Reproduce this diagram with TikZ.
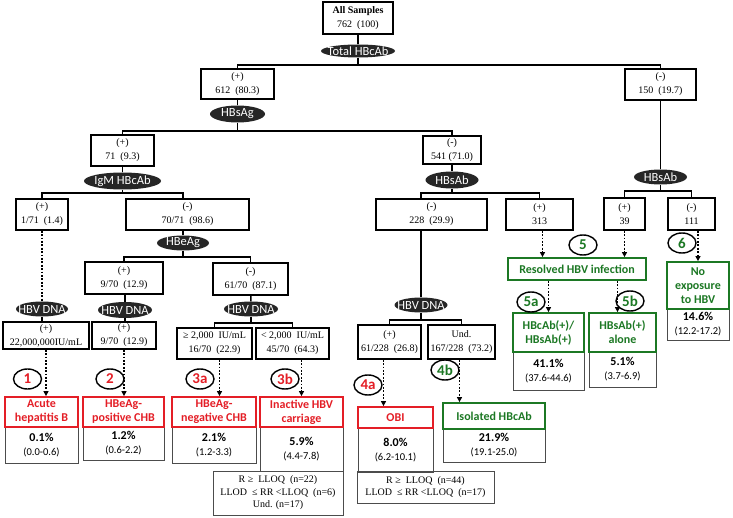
\documentclass[tikz,border=0pt]{standalone}
\usepackage{fontspec}
\setmainfont{Liberation Serif}
\newfontfamily\calfont{Carlito}
\usepackage{tikz}
\usetikzlibrary{arrows.meta,shapes.geometric,calc}
\definecolor{stagered}{RGB}{228,30,38}
\definecolor{stagegreen}{RGB}{28,120,36}
\tikzset{
  wh/.style 2 args={minimum width=#1,minimum height=#2},
  countbox/.style={draw,line width=1.5pt,inner sep=0pt,align=center,
    font=\fontsize{10}{14}\selectfont},
  assayellipse/.style={ellipse,fill=black!85,text=white,inner xsep=-12pt,
    inner ysep=-3pt,font=\calfont\fontsize{12.5}{14}\selectfont},
  redbox/.style={draw=stagered,text=stagered,line width=1.8pt,inner sep=0pt,
    align=center,font=\calfont\bfseries\fontsize{12}{14}\selectfont},
  greenbox/.style={redbox,draw=stagegreen,text=stagegreen},
  ratebox/.style={draw=black!70,line width=0.8pt,inner sep=0pt,align=center,
    font=\calfont\fontsize{12}{14}\selectfont},
  notebox/.style={draw=black!70,line width=0.8pt,inner sep=0pt,align=center,
    font=\fontsize{10}{12.5}\selectfont},
  treeline/.style={line width=1.5pt},
  dotline/.style={line width=1.8pt,dash pattern=on 1.8pt off 1.6pt},
  stagearrow/.style={dotline,-{Triangle[length=5pt,width=5pt]}},
  stagecircle/.style={ellipse,draw,line width=1.4pt,inner sep=0pt,
    minimum width=28pt,minimum height=20pt,
    font=\calfont\bfseries\fontsize{15}{15}\selectfont}
}
\newcommand{\rate}[2]{\textbf{#1}\\{\fontsize{10.5}{12}\selectfont #2}}

\begin{document}
\begin{tikzpicture}[x=1pt,y=-1pt]
  \useasboundingbox[fill=white] (0,0) rectangle (733,518);

  % serology tree
  \node[countbox,wh={70}{32}] (all) at (358,18) {\textbf{All Samples}\\762~~(100)};
  \node[assayellipse,wh={74}{13}] (eTot) at (358,51) {Total HBcAb};
  \node[countbox,wh={73}{30}] (p612) at (237.5,84) {(+)\\612~~(80.3)};
  \node[countbox,wh={71}{31}] (n150) at (660.5,84.5) {(-)\\150~~(19.7)};
  \node[assayellipse,wh={55}{17}] (eHBsAg) at (237.5,114) {HBsAg};
  \node[assayellipse,wh={53}{15}] (eHBsAb2) at (660.5,177) {HBsAb};
  \node[countbox,wh={63}{31}] (p71) at (122.5,150.5) {(+)\\71~~(9.3)};
  \node[countbox,wh={58}{28}] (n541) at (452,150) {(-)\\541~(71.0)};
  \node[assayellipse,wh={77}{17}] (eIgM) at (122.5,181) {IgM HBcAb};
  \node[assayellipse,wh={53}{17}] (eHBsAb1) at (452,180) {HBsAb};
  \node[countbox,wh={52}{31}] (p1_71) at (42,214.5) {(+)\\1/71~~(1.4)};
  \node[countbox,wh={123}{31}] (n70_71) at (187.5,214.5) {(-)\\70/71~~(98.6)};
  \node[countbox,wh={111}{31}] (n228) at (431.5,214.5) {(-)\\228~~(29.9)};
  \node[countbox,wh={67}{31}] (p313) at (539.5,214.5) {(+)\\313};
  \node[countbox,wh={41}{32}] (p39) at (624.5,214) {(+)\\39};
  \node[countbox,wh={47}{32}] (n111) at (691.5,214) {(-)\\111};
  \node[assayellipse,wh={52}{15}] (eHBeAg) at (183,243) {HBeAg};
  \node[countbox,wh={78}{32}] (p9_70) at (124,278) {(+)\\9/70~~(12.9)};
  \node[countbox,wh={75}{32}] (n61_70) at (250.5,279) {(-)\\61/70~~(87.1)};
  \node[assayellipse,wh={52}{15}] (eDNA1) at (42,309) {HBV DNA};
  \node[assayellipse,wh={54}{16}] (eDNA2) at (125,310) {HBV DNA};
  \node[assayellipse,wh={54}{15}] (eDNA3) at (251,309) {HBV DNA};
  \node[assayellipse,wh={53}{15}] (eDNA4) at (421,305) {HBV DNA};
  \node[countbox,wh={86}{27}] (pdna1) at (46,335.5) {(+)\\22,000,000IU/mL};
  \node[countbox,wh={64}{27}] (pdna2) at (124,335.5) {(+)\\9/70~~(12.9)};
  \node[countbox,wh={75}{31}] (hi2000) at (214.5,343.5) {≥ 2,000~~IU/mL\\16/70~~(22.9)};
  \node[countbox,wh={73}{31}] (lo2000) at (292.5,343.5) {< 2,000~~IU/mL\\45/70~~(64.3)};
  \node[countbox,wh={63}{34}] (pobi) at (389.5,342) {(+)\\61/228~~(26.8)};
  \node[countbox,wh={67}{34}] (und) at (461.5,342) {Und.\\167/228~~(73.2)};

  % outcome rates
  \node[ratebox,wh={73}{36}] (vAcute) at (41.5,445) {\rate{0.1\%}{(0.0-0.6)}};
  \node[ratebox,wh={81}{33}] (vPos) at (123.5,443.5) {\rate{1.2\%}{(0.6-2.2)}};
  \node[ratebox,wh={84}{36}] (vNeg) at (214,445) {\rate{2.1\%}{(1.2-3.3)}};
  \node[ratebox,wh={83}{44}] (vInact) at (301.5,449) {\rate{5.9\%}{(4.4-7.8)}};
  \node[ratebox,wh={75}{44}] (vOBI) at (395.5,450) {\rate{8.0\%}{(6.2-10.1)}};
  \node[ratebox,wh={102}{33}] (vIso) at (494,445.5) {\rate{21.9\%}{(19.1-25.0)}};
  \node[ratebox,wh={71}{38}] (vBoth) at (548.5,371) {\rate{41.1\%}{(37.6-44.6)}};
  \node[ratebox,wh={67}{35}] (vAlone) at (622.5,369.5) {\rate{5.1\%}{(3.7-6.9)}};
  \node[ratebox,wh={62}{31}] (vNoexp) at (698,324.5) {\rate{14.6\%}{(12.2-17.2)}};

  % outcome boxes
  \node[redbox,wh={73}{30}] (rAcute) at (41.5,412) {Acute\\hepatitis B};
  \node[redbox,wh={81}{30}] (rPos) at (123.5,412) {HBeAg-\\positive CHB};
  \node[redbox,wh={84}{30}] (rNeg) at (214,412) {HBeAg-\\negative CHB};
  \node[redbox,wh={83}{30}] (rInact) at (301.5,412) {Inactive HBV\\carriage};
  \node[redbox,wh={75}{21}] (rOBI) at (395.5,417.5) {OBI};
  \node[greenbox,wh={102}{26}] (gIso) at (494,416) {Isolated HBcAb};
  \node[greenbox,wh={138}{22}] (gRes) at (577,269) {Resolved HBV infection};
  \node[greenbox,wh={71}{39}] (gBoth) at (548.5,332.5) {HBcAb(+)/\\HBsAb(+)};
  \node[greenbox,wh={67}{39}] (gAlone) at (622.5,332.5) {HBsAb(+)\\alone};
  \node[greenbox,wh={62}{47}] (gNoexp) at (698,285.5) {No\\exposure\\to HBV};

  \node[notebox,wh={130}{44}] (nInact) at (278,493)
    {R ≥~~LLOQ~~(n=22)\\LLOD~~≤ RR <LLOQ~~(n=6)\\Und. (n=17)};
  \node[notebox,wh={137}{32}] (nOBI) at (425.5,487)
    {R ≥~~LLOQ~~(n=44)\\LLOD~~≤ RR <LLOQ~~(n=17)};

  % branches
  \draw[treeline] (all) -- (eTot);
  \draw[treeline] (eTot.south) -- ++(0,7.5) coordinate (bTot);
  \draw[treeline] (p612.north) |- (bTot) -| (n150.north);
  \draw[treeline] (p612) -- (eHBsAg);
  \draw[treeline] (eHBsAg.south) -- ++(0,8.5) coordinate (bHBsAg);
  \draw[treeline] (p71.north) |- (bHBsAg) -| (n541.north);
  \draw[treeline] (p71) -- (eIgM);
  \draw[treeline] (eIgM.south) -- ++(0,3.5) coordinate (bIgM);
  \draw[treeline] (p1_71.north) |- (bIgM) -| (eHBeAg.north |- n70_71.north);
  \draw[treeline] (eHBeAg.north |- n70_71.south) -- (eHBeAg.north);
  \draw[treeline] (eHBeAg.south) -- ++(0,6.5) coordinate (bHBeAg);
  \draw[treeline] (p9_70.north) |- (bHBeAg) -| (n61_70.north);
  \draw[treeline] (eDNA2.north |- p9_70.south) -- (eDNA2.north);
  \draw[treeline] (eDNA2.south) -- (eDNA2.south |- pdna2.north);
  \draw[treeline] (n61_70) -- (eDNA3);
  \draw[treeline] (eDNA3.south) -- ++(0,6.5) coordinate (bDNA3);
  \draw[treeline] (hi2000.north) |- (bDNA3) -| (lo2000.north);
  \draw[dotline] (p1_71) -- (eDNA1);
  \draw[treeline] (eDNA1.south) -- (eDNA1.south |- pdna1.north);
  \draw[treeline] (n541) -- (eHBsAb1);
  \draw[treeline] (eHBsAb1.south) -- ++(0,4.5) coordinate (bHBsAb1);
  \draw[treeline] (eDNA4.north |- n228.north) |- (bHBsAb1) -| (p313.north);
  \draw[treeline] (eDNA4.north |- n228.south) -- (eDNA4.north);
  \draw[treeline] (eDNA4.south) -- ++(0,7.5) coordinate (bDNA4);
  \draw[treeline] (pobi.north) |- (bDNA4) -| (und.north);
  \draw[treeline] (n150) -- (eHBsAb2);
  \draw[treeline] (eHBsAb2.south) -- ++(0,6.5) coordinate (bHBsAb2);
  \draw[treeline] (p39.north) |- (bHBsAb2) -| (n111.north);

  % to the outcomes
  \draw[stagearrow] (pdna1.south) -- (pdna1.south |- rAcute.north);
  \draw[stagearrow] (pdna2.south) -- (pdna2.south |- rPos.north);
  \draw[stagearrow] ([xshift=5pt]hi2000.south) -- ([xshift=5pt]hi2000.south |- rNeg.north);
  \draw[stagearrow] (rInact.north |- lo2000.south) -- (rInact.north);
  \draw[stagearrow] ([xshift=-6pt]pobi.south) -- ([xshift=-6pt]pobi.south |- rOBI.north);
  \draw[stagearrow] ([xshift=-2pt]und.south) -- ([xshift=-2pt]und.south |- gIso.north);
  \draw[stagearrow] ([xshift=3pt]p313.south) -- ([xshift=3pt]p313.south |- gRes.north);
  \draw[stagearrow] (p39.south) -- (p39.south |- gRes.north);
  \draw[stagearrow] (gNoexp.north |- n111.south) -- (gNoexp.north);
  \draw[stagearrow] (gBoth.north |- gRes.south) -- (gBoth.north);
  \draw[stagearrow] ([xshift=-5pt]gAlone.north |- gRes.south) -- ([xshift=-5pt]gAlone.north);

  % stage markers
  \node[stagecircle,text=stagered] (c1) at (27.5,379) {1};
  \node[stagecircle,text=stagered] (c2) at (110,379) {2};
  \node[stagecircle,text=stagered] (c3a) at (200,379) {3a};
  \node[stagecircle,text=stagered] (c3b) at (285,379) {3b};
  \node[stagecircle,text=stagered] (c4a) at (368,385) {4a};
  \node[stagecircle,text=stagegreen] (c4b) at (445,370) {4b};
  \node[stagecircle,text=stagegreen] (c5) at (583,245) {5};
  \node[stagecircle,text=stagegreen] (c5a) at (531,302) {5a};
  \node[stagecircle,text=stagegreen] (c5b) at (630,301) {5b};
  \node[stagecircle,text=stagegreen] (c6) at (682,243) {6};
\end{tikzpicture}
\end{document}
